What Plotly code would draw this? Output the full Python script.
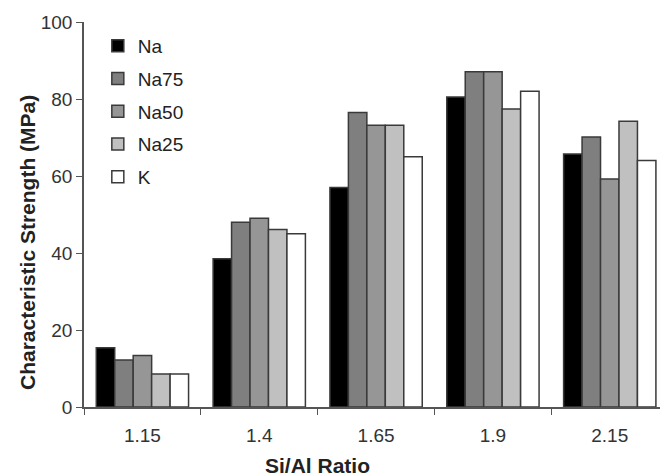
import plotly.graph_objects as go

categories = ["1.15", "1.4", "1.65", "1.9", "2.15"]
series_names = ["Na", "Na75", "Na50", "Na25", "K"]
na = [15.4, 38.5, 57.0, 80.5, 65.7]
na75 = [12.2, 48.0, 76.5, 87.1, 70.1]
na50 = [13.4, 49.0, 73.2, 87.1, 59.2]
na25 = [8.6, 46.1, 73.2, 77.4, 74.2]
k = [8.6, 45.0, 65.0, 82.0, 64.0]
values = [na, na75, na50, na25, k]
colors = ["#000000", "#7f7f7f", "#969696", "#c0c0c0", "#ffffff"]
x_title = "Si/Al Ratio"
y_title = "Characteristic Strength (MPa)"

fig = go.Figure()
for name, vals, col in zip(series_names, values, colors):
    fig.add_trace(go.Bar(
        x=categories, y=vals, name=name, legendgroup=name,
        marker=dict(color=col, line=dict(color="#3a3a3a", width=1.5)),
    ))

font_family = "Liberation Sans, Arial, sans-serif"
fig.update_layout(
    width=660, height=476,
    margin=dict(l=84, r=0, t=22, b=69, autoexpand=False),
    paper_bgcolor="white", plot_bgcolor="white",
    barmode="group", bargap=0.21, bargroupgap=0,
    font=dict(family=font_family, size=19, color="#333333"),
    showlegend=True,
    legend=dict(x=0.024, y=0.987, xanchor="left", yanchor="top",
                font=dict(size=19, color="#222222"), tracegroupgap=5,
                bgcolor="rgba(0,0,0,0)", itemwidth=30),
    xaxis=dict(
        type="category", range=[-0.5, 4.43], automargin=False,
        showline=True, linecolor="#555555", linewidth=1.5,
        ticks="outside", tickson="boundaries", ticklen=6, tickcolor="#555555",
        tickfont=dict(size=19, color="#333333"), ticklabelstandoff=10,
        showgrid=False, zeroline=False,
    ),
    yaxis=dict(
        range=[0, 100], tickvals=[0, 20, 40, 60, 80, 100], automargin=False,
        showline=True, linecolor="#555555", linewidth=1.5,
        ticks="outside", ticklen=6, tickcolor="#555555",
        tickfont=dict(size=19, color="#333333"),
        showgrid=False, zeroline=False,
    ),
    annotations=[
        dict(text="<b>" + x_title + "</b>", xref="paper", yref="paper",
             x=(317 - 84) / 576, y=-(465 - 407) / 385, xanchor="center", yanchor="middle",
             showarrow=False, font=dict(size=21, color="#222222")),
        dict(text="<b>" + y_title + "</b>", xref="paper", yref="paper",
             x=-(84 - 27) / 576, y=(407 - 243) / 385, xanchor="center", yanchor="middle",
             textangle=-90, showarrow=False, font=dict(size=21, color="#222222")),
    ],
)

fig.write_html("out.html", config={"displayModeBar": False},
               post_script="document.body.style.margin='0px';")
